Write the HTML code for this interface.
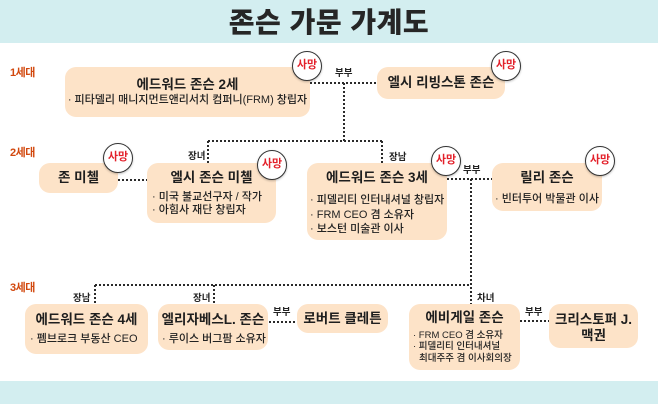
<!DOCTYPE html>
<html><head><meta charset="utf-8">
<style>
*{margin:0;padding:0;box-sizing:border-box}
html,body{width:658px;height:404px;overflow:hidden;background:#fff}
body{position:relative;font-family:"Liberation Sans","Noto Sans CJK KR",sans-serif;color:#222}
.band{position:absolute;left:0;width:658px;background:#d3eef0}
.box{position:absolute;background:#fde3c8;border-radius:11px}
.t{position:absolute;white-space:nowrap;line-height:16px;height:16px}
.ttl{font-size:13.5px;font-weight:700;text-align:center;color:#1e1e1e}
.sub{font-size:11px;font-weight:500;color:#222;letter-spacing:0}
.lab{font-size:9.5px;font-weight:700;color:#222}
.gen{font-size:11px;font-weight:700;color:#d2480e;letter-spacing:-0.5px}
.badge{position:absolute;width:30px;height:30px;border-radius:50%;background:#fff;border:1.5px solid #333;color:#e3202a;font-size:11px;font-weight:700;text-align:center;line-height:26px;box-shadow:0 1px 2px rgba(0,0,0,0.25)}
svg{position:absolute;left:0;top:0}
</style></head><body>
<div class="band" style="top:0;height:43px"></div>
<div class="band" style="top:381px;height:23px"></div>
<div class="t" style="left:0;width:658px;top:7px;height:32px;line-height:32px;text-align:center;font-size:28px;font-weight:900;letter-spacing:0.5px;color:#262626">존슨 가문 가계도</div>

<div class="t gen" style="left:10px;top:65px">1세대</div>
<div class="t gen" style="left:10px;top:145px">2세대</div>
<div class="t gen" style="left:10px;top:280px">3세대</div>

<svg width="658" height="404">
<g stroke="#2a2a2a" stroke-width="2" stroke-dasharray="2 2" fill="none">
<line x1="310" y1="83" x2="377" y2="83"/>
<line x1="344" y1="83" x2="344" y2="141"/>
<line x1="208" y1="141" x2="382" y2="141"/>
<line x1="208" y1="141" x2="208" y2="163"/>
<line x1="382" y1="141" x2="382" y2="163"/>
<line x1="118" y1="180" x2="147" y2="180"/>
<line x1="447" y1="179" x2="492" y2="179"/>
<line x1="471" y1="179" x2="471" y2="304"/>
<line x1="95" y1="285" x2="471" y2="285"/>
<line x1="95" y1="285" x2="95" y2="304"/>
<line x1="214" y1="285" x2="214" y2="304"/>
<line x1="269" y1="322" x2="297" y2="322"/>
<line x1="520" y1="321" x2="549" y2="321"/>
</g>
</svg>

<div class="t lab" style="left:335px;top:66px">부부</div>
<div class="t lab" style="left:188px;top:149px">장녀</div>
<div class="t lab" style="left:389px;top:150px">장남</div>
<div class="t lab" style="left:463px;top:163px">부부</div>
<div class="t lab" style="left:73px;top:291px">장남</div>
<div class="t lab" style="left:193px;top:291px">장녀</div>
<div class="t lab" style="left:477px;top:291px">차녀</div>
<div class="t lab" style="left:273px;top:305px">부부</div>
<div class="t lab" style="left:525px;top:305px">부부</div>

<!-- Gen 1 -->
<div class="box" style="left:65px;top:67px;width:245px;height:50px"></div>
<div class="t ttl" style="left:65px;width:245px;top:77px">에드워드 존슨 2세</div>
<div class="t sub" style="left:65px;width:245px;top:92px;text-align:center">· 피타델리 매니지먼트앤리서치 컴퍼니(FRM) 창립자</div>

<div class="box" style="left:377px;top:67px;width:128px;height:32px"></div>
<div class="t ttl" style="left:377px;width:128px;top:75px">엘시 리빙스톤 존슨</div>

<!-- Gen 2 -->
<div class="box" style="left:39px;top:163px;width:79px;height:30px"></div>
<div class="t ttl" style="left:39px;width:79px;top:170px">존 미첼</div>

<div class="box" style="left:147px;top:163px;width:129px;height:60px"></div>
<div class="t ttl" style="left:147px;width:129px;top:170px">엘시 존슨 미첼</div>
<div class="t sub" style="left:152px;top:189px">· 미국 불교선구자 / 작가</div>
<div class="t sub" style="left:152px;top:202px">· 아힘사 재단 창립자</div>

<div class="box" style="left:307px;top:163px;width:140px;height:77px"></div>
<div class="t ttl" style="left:307px;width:140px;top:170px">에드워드 존슨 3세</div>
<div class="t sub" style="left:310px;top:192px">· 피델리티 인터내셔널 창립자</div>
<div class="t sub" style="left:310px;top:207px">· FRM CEO 겸 소유자</div>
<div class="t sub" style="left:310px;top:221px">· 보스턴 미술관 이사</div>

<div class="box" style="left:492px;top:163px;width:110px;height:48px"></div>
<div class="t ttl" style="left:492px;width:110px;top:170px">릴리 존슨</div>
<div class="t sub" style="left:492px;width:110px;top:191px;text-align:center">· 빈터투어 박물관 이사</div>

<!-- Gen 3 -->
<div class="box" style="left:25px;top:304px;width:123px;height:50px"></div>
<div class="t ttl" style="left:25px;width:123px;top:312px">에드워드 존슨 4세</div>
<div class="t sub" style="left:30px;top:331px">· 펨브로크 부동산 CEO</div>

<div class="box" style="left:158px;top:304px;width:110px;height:46px"></div>
<div class="t ttl" style="left:158px;width:110px;top:312px">엘리자베스L. 존슨</div>
<div class="t sub" style="left:162px;top:331px">· 루이스 버그팜 소유자</div>

<div class="box" style="left:297px;top:304px;width:91px;height:29px"></div>
<div class="t ttl" style="left:297px;width:91px;top:311px">로버트 클레튼</div>

<div class="box" style="left:409px;top:304px;width:111px;height:66px"></div>
<div class="t ttl" style="left:409px;width:111px;top:310px">에비게일 존슨</div>
<div class="t sub" style="left:413px;top:328px;font-size:9.5px">· FRM CEO 겸 소유자</div>
<div class="t sub" style="left:413px;top:339px;font-size:9.5px">· 피델리티 인터내셔널</div>
<div class="t sub" style="left:419px;top:351px;font-size:9.5px">최대주주 겸 이사회의장</div>

<div class="box" style="left:549px;top:304px;width:89px;height:44px"></div>
<div class="t ttl" style="left:549px;width:89px;top:312px">크리스토퍼 J.</div>
<div class="t ttl" style="left:549px;width:89px;top:328px">맥권</div>

<!-- badges -->
<div class="badge" style="left:292px;top:51px">사망</div>
<div class="badge" style="left:491px;top:51px">사망</div>
<div class="badge" style="left:103px;top:143px">사망</div>
<div class="badge" style="left:257px;top:150px">사망</div>
<div class="badge" style="left:431px;top:146px">사망</div>
<div class="badge" style="left:585px;top:146px">사망</div>
</body></html>
